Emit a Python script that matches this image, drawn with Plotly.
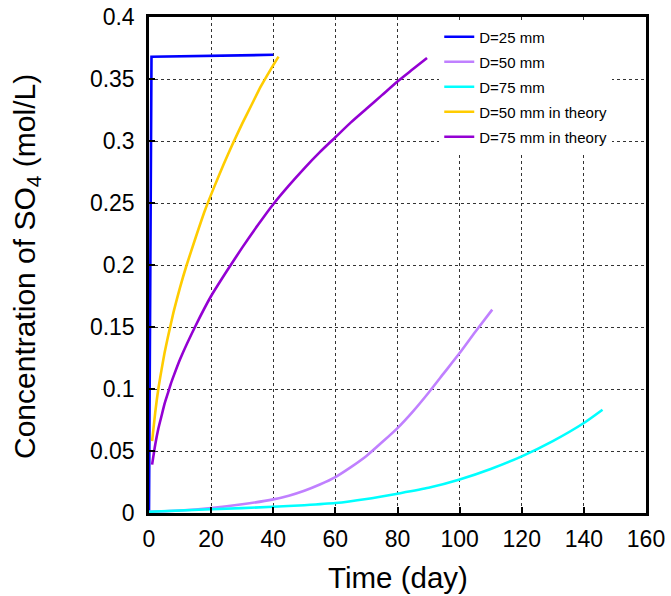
import plotly.graph_objects as go

# ---- data ----
d25_x = [0, 0.8, 40]
d25_y = [0.0, 0.368, 0.3695]

d50_x = [0, 10, 20, 30, 40, 45, 50, 55, 60, 65, 70, 75, 80, 85, 90, 95, 100, 105, 110.5]
d50_y = [0.001, 0.002, 0.004, 0.007, 0.011, 0.014, 0.018, 0.023, 0.029, 0.037, 0.046, 0.057, 0.0685, 0.082, 0.097, 0.113, 0.129, 0.146, 0.164]

d75_x = [0, 20, 40, 50, 60, 70, 80, 90, 100, 110, 120, 130, 140, 146]
d75_y = [0.001, 0.003, 0.005, 0.0063, 0.008, 0.0113, 0.0156, 0.0203, 0.027, 0.0355, 0.0457, 0.058, 0.0726, 0.0833]

t50_x = [1, 2, 3, 4, 5, 6, 7, 8, 10, 12, 15, 18, 21, 24, 27, 30, 33, 36, 39, 41.7]
t50_y = [0.058, 0.081, 0.100, 0.115, 0.129, 0.141, 0.152, 0.163, 0.182, 0.199, 0.222, 0.244, 0.263, 0.281, 0.298, 0.314, 0.329, 0.344, 0.357, 0.368]

t75_x = [1, 2, 3, 4, 5, 6, 7, 8, 10, 15, 20, 25, 30, 35, 40, 45, 50, 55, 60, 65, 70, 75, 80, 85, 89.5]
t75_y = [0.039, 0.055, 0.068, 0.078, 0.088, 0.096, 0.104, 0.111, 0.124, 0.151, 0.175, 0.195, 0.214, 0.232, 0.249, 0.264, 0.278, 0.291, 0.303, 0.315, 0.326, 0.337, 0.348, 0.358, 0.367]

names = ["D=25 mm", "D=50 mm", "D=75 mm", "D=50 mm in theory", "D=75 mm in theory"]
colors = ["#0000ff", "#c080ff", "#00ffff", "#ffcc00", "#9400d3"]
series = [(d25_x, d25_y), (d50_x, d50_y), (d75_x, d75_y), (t50_x, t50_y), (t75_x, t75_y)]

x_title = "Time (day)"
y_title = "Concentration of SO<sub>4</sub> (mol/L)"

fig = go.Figure()
for i, ((xs, ys), nm, col) in enumerate(zip(series, names, colors)):
    fig.add_trace(go.Scatter(
        x=xs, y=ys, mode="lines", name=nm, legendgroup=f"g{i}",
        line=dict(color=col, width=2.6, shape="linear" if i == 0 else "spline", smoothing=0.6),
    ))

FONT = "Liberation Sans, Arial, Helvetica, sans-serif"
PW = 671 - 149 - 25
PH = 596 - 17 - 83
fig.update_layout(
    width=671, height=596,
    margin=dict(l=149, r=25, t=17, b=83),
    paper_bgcolor="white", plot_bgcolor="white",
    font=dict(family=FONT, color="black", size=23),
    showlegend=True,
    legend=dict(
        x=0.584, y=0.993, xanchor="left", yanchor="top",
        bgcolor="white", borderwidth=0,
        font=dict(size=15, family=FONT, color="black"),
        tracegroupgap=2.5,
    ),
    xaxis=dict(
        range=[0, 160], dtick=20, tick0=0,
        showline=True, linecolor="black", linewidth=2.5, mirror=True,
        ticks="inside", ticklen=6, tickwidth=2, tickcolor="black",
        showgrid=True, gridcolor="#333333", gridwidth=1, griddash="dot",
        zeroline=False, automargin=False,
        tickfont=dict(size=23),
        ticklabelstandoff=4,
    ),
    yaxis=dict(
        range=[0, 0.4], dtick=0.05, tick0=0,
        showline=True, linecolor="black", linewidth=2.5, mirror=True,
        ticks="inside", ticklen=6, tickwidth=2, tickcolor="black",
        showgrid=True, gridcolor="#333333", gridwidth=1, griddash="dot",
        zeroline=False, automargin=False,
        tickfont=dict(size=23),
        ticklabelstandoff=7,
    ),
    annotations=[
        dict(text=x_title, xref="paper", yref="paper", x=0.5, y=(0 - 64) / PH,
             xanchor="center", yanchor="middle", showarrow=False,
             font=dict(size=29.5, family=FONT, color="black")),
        dict(text=y_title, xref="paper", yref="paper", x=(26 - 149) / PW, y=(267 - 513) / -PH,
             xanchor="center", yanchor="middle", textangle=-90, showarrow=False,
             font=dict(size=30, family=FONT, color="black")),
    ],
)

fig.write_html("out.html", config={"displayModeBar": False},
               post_script="document.body.style.margin='0';")
